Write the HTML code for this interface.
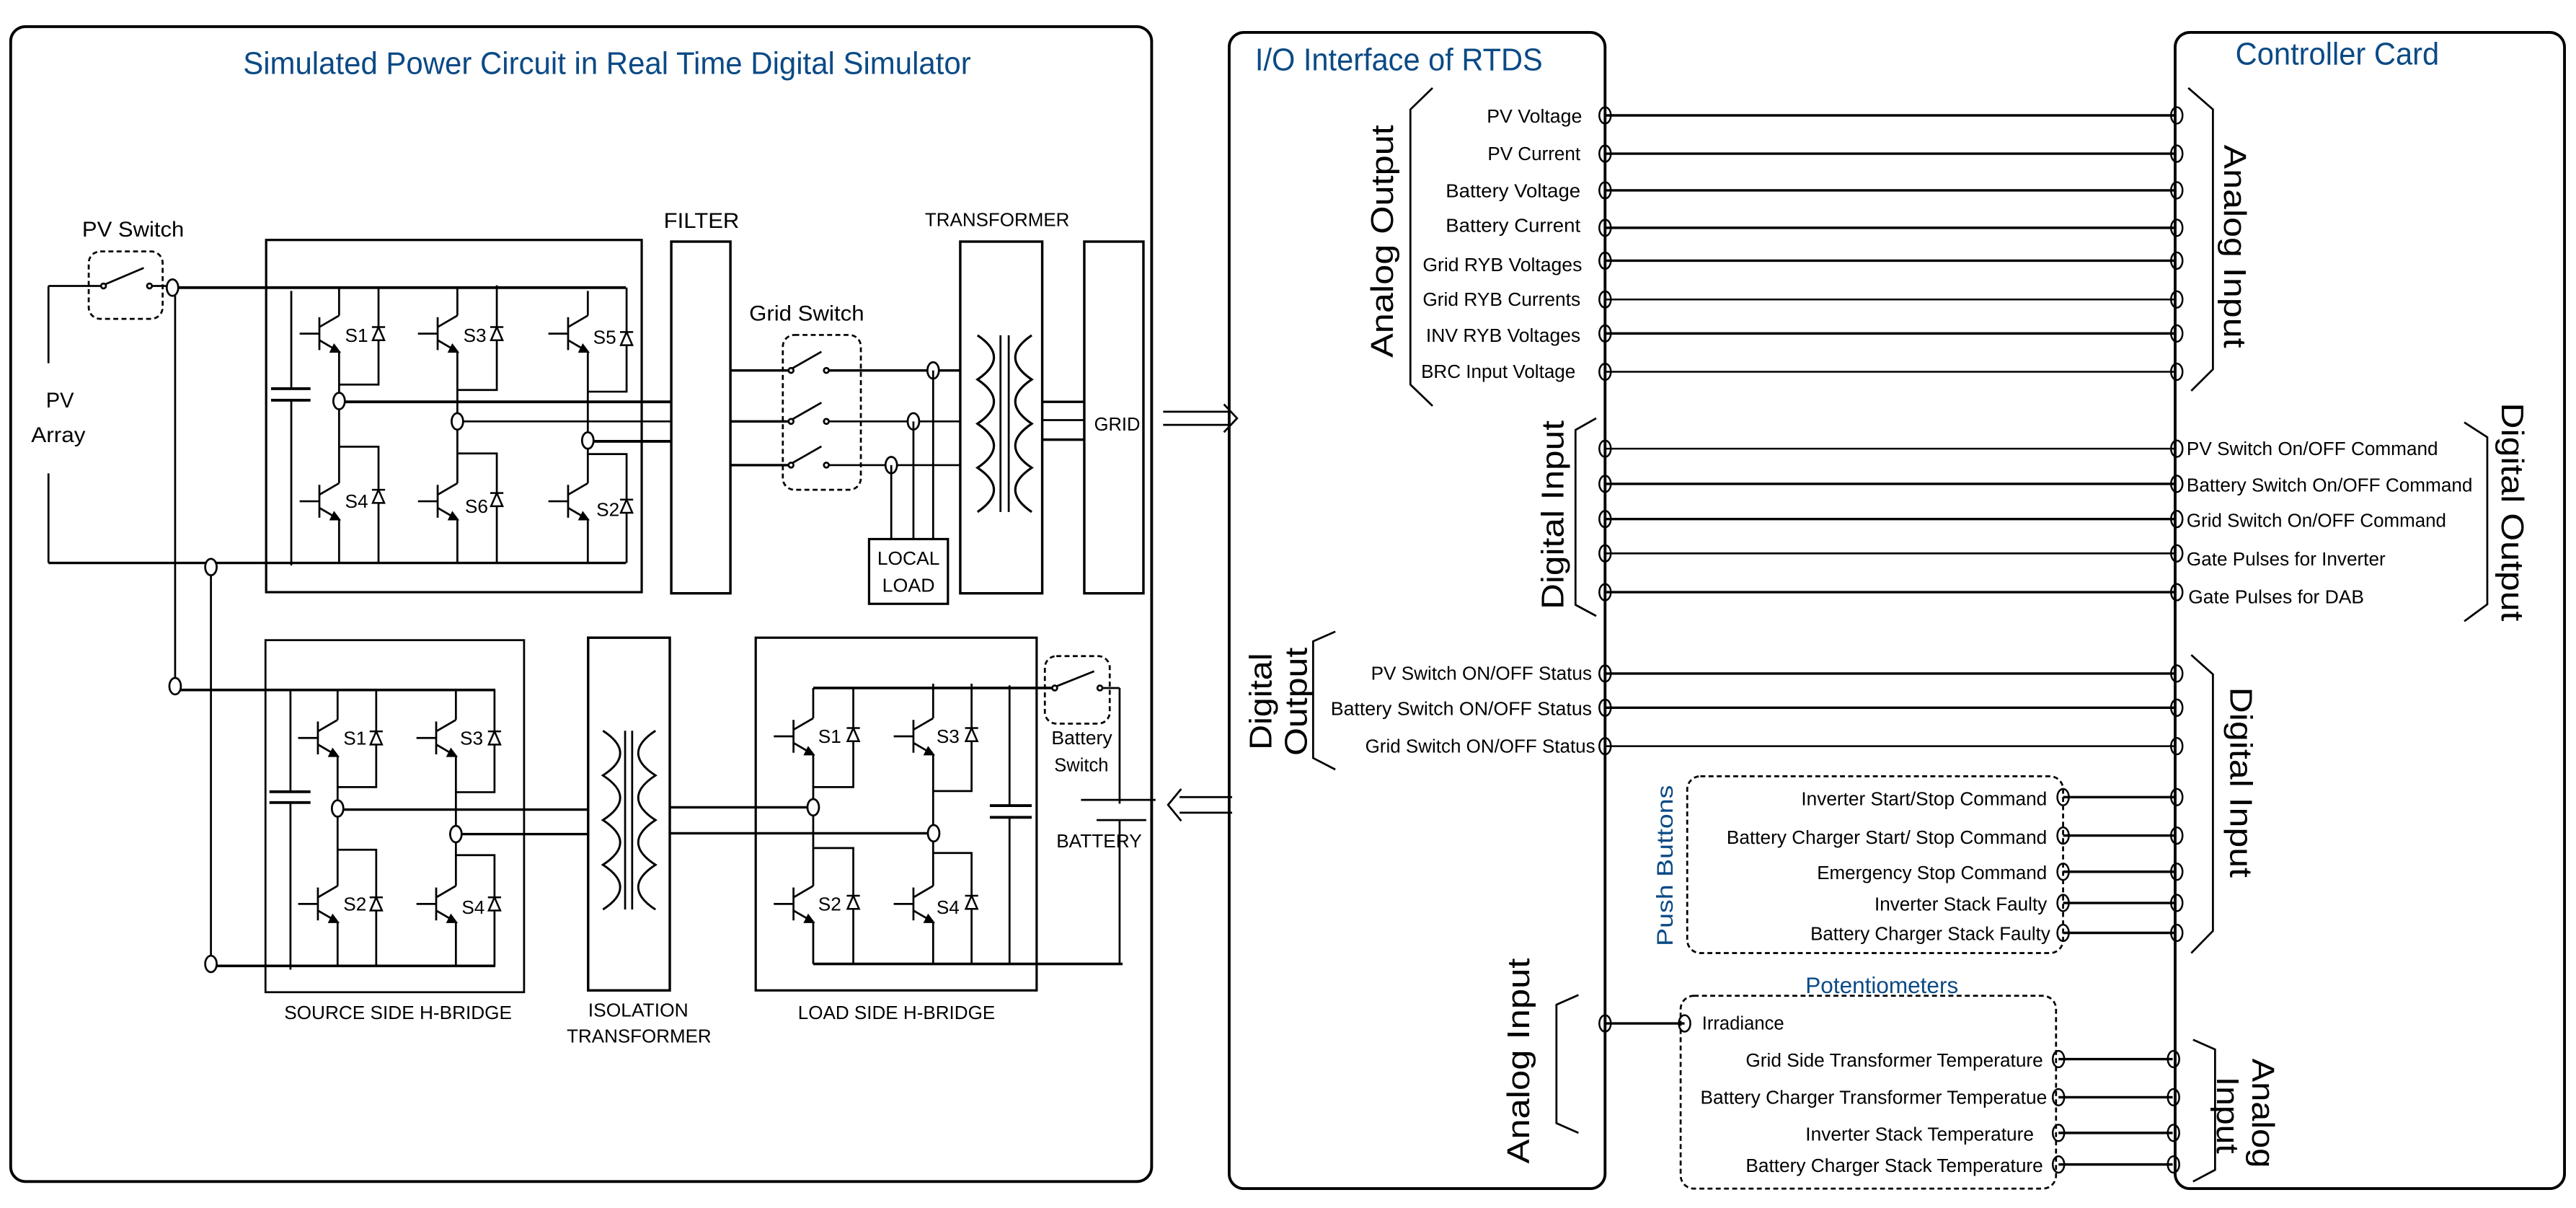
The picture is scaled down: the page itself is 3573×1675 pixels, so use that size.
<!DOCTYPE html>
<html><head><meta charset="utf-8"><style>
html,body{margin:0;padding:0;background:#fff;}
svg{display:block;}
text{font-family:"Liberation Sans",Arial,sans-serif;fill:#000;}
.b{fill:#0b4a85;}
</style></head><body>
<svg width="3573" height="1675" viewBox="0 0 1568 735" preserveAspectRatio="none" xmlns="http://www.w3.org/2000/svg">
<defs>
<g id="q" fill="none" stroke="#000" stroke-width="1.2">
<line x1="-12" y1="-10" x2="-12" y2="10"/>
<line x1="-24" y1="0" x2="-12" y2="0"/>
<line x1="-12" y1="-4" x2="0" y2="-11"/>
<line x1="-12" y1="4" x2="0" y2="11"/>
<path d="M-3,7 L0,11 L-5,11 Z" fill="#000"/>
</g>
<g id="d" fill="none" stroke="#000" stroke-width="1.1">
<path d="M-3.5,4 L3.5,4 L0,-4 Z" fill="#fff"/>
<line x1="-4" y1="-4" x2="4" y2="-4"/>
</g>
</defs>
<g fill="none" stroke="#000" stroke-width="1.2">
<!-- outer boxes -->
<rect x="6.5" y="16.2" width="694.5" height="702.7" rx="9" stroke-width="1.7"/>
<rect x="748.2" y="19.7" width="228.8" height="703.5" rx="9" stroke-width="1.7"/>
<rect x="1324" y="19.7" width="237" height="703.5" rx="9" stroke-width="1.7"/>

<!-- PV switch -->
<rect x="54" y="153" width="45" height="41" rx="7" stroke-dasharray="3,2"/>
<line x1="29.5" y1="174" x2="61.5" y2="174"/>
<circle cx="63" cy="174" r="1.5"/>
<line x1="64" y1="173" x2="87.5" y2="163"/>
<circle cx="91" cy="174" r="1.5"/>
<line x1="92.5" y1="174" x2="101" y2="174"/>
<ellipse cx="105" cy="175" rx="3.5" ry="5" fill="#fff"/>
<line x1="108.5" y1="175" x2="381" y2="175" stroke-width="1.7"/>
<line x1="29.5" y1="174" x2="29.5" y2="221"/>
<line x1="29.5" y1="288" x2="29.5" y2="342.5"/>
<line x1="29.5" y1="342.5" x2="381" y2="342.5" stroke-width="1.5"/>
<line x1="106.6" y1="180" x2="106.6" y2="412"/>
<ellipse cx="106.6" cy="417.5" rx="3.5" ry="5" fill="#fff"/>
<ellipse cx="128.4" cy="345" rx="3.5" ry="5" fill="#fff"/>
<line x1="128.4" y1="350" x2="128.4" y2="581"/>
<ellipse cx="128.4" cy="586.5" rx="3.5" ry="5" fill="#fff"/>

<!-- inverter -->
<rect x="162" y="146" width="228.6" height="214.3" stroke-width="1.4"/>
<line x1="177.3" y1="177" x2="177.3" y2="236.5"/>
<line x1="177.3" y1="243.5" x2="177.3" y2="344"/>
<line x1="165" y1="236.5" x2="189" y2="236.5" stroke-width="1.7"/>
<line x1="165" y1="243.5" x2="189" y2="243.5" stroke-width="1.7"/>
<!-- leg1 -->
<path d="M206.4,175 V192 M206.4,214 V294 M206.4,316 V342.5"/>
<path d="M230.4,175 V234 H206.4 M206.4,271.8 H230.4 V342.5"/>
<ellipse cx="206.4" cy="244" rx="3.5" ry="5" fill="#fff"/>
<line x1="210" y1="244.5" x2="408.6" y2="244.5" stroke-width="1.7"/>
<!-- leg2 -->
<path d="M278.4,175 V192 M278.4,214 V294 M278.4,316 V342.5"/>
<path d="M302.4,173.6 V237.3 H278.4 M278.4,275.9 H302.4 V342.5"/>
<ellipse cx="278.4" cy="256.4" rx="3.5" ry="5" fill="#fff"/>
<line x1="282" y1="256.4" x2="408.6" y2="256.4"/>
<!-- leg3 -->
<path d="M357.8,177 V192 M357.8,214 V294 M357.8,316 V342.5"/>
<path d="M381.4,175 V238.3 H357.8 M357.8,276.3 H381.4 V342.5"/>
<ellipse cx="357.8" cy="268" rx="3.5" ry="5" fill="#fff"/>
<line x1="361.3" y1="268.5" x2="408.6" y2="268.5" stroke-width="1.7"/>

<!-- filter etc -->
<rect x="408.6" y="147" width="36" height="214" stroke-width="1.5"/>
<rect x="476.5" y="203.8" width="47.5" height="94.2" rx="7" stroke-dasharray="3,2"/>
<g stroke-width="1.5">
<line x1="444.6" y1="225.4" x2="480" y2="225.4"/>
<line x1="444.6" y1="256.4" x2="480" y2="256.4"/>
<line x1="444.6" y1="283" x2="480" y2="283"/>
<line x1="504.5" y1="225.4" x2="584.5" y2="225.4"/>
</g>
<line x1="504.5" y1="256.4" x2="584.5" y2="256.4"/>
<line x1="504.5" y1="283" x2="584.5" y2="283"/>
<circle cx="481.5" cy="225.4" r="1.5"/><circle cx="503" cy="225.4" r="1.5"/>
<circle cx="481.5" cy="256.4" r="1.5"/><circle cx="503" cy="256.4" r="1.5"/>
<circle cx="481.5" cy="283" r="1.5"/><circle cx="503" cy="283" r="1.5"/>
<line x1="482.5" y1="224" x2="500" y2="214"/>
<line x1="482.5" y1="255" x2="500" y2="245"/>
<line x1="482.5" y1="281.6" x2="500" y2="271.6"/>
<ellipse cx="568" cy="225.4" rx="3.5" ry="5" fill="#fff"/>
<ellipse cx="556" cy="256.4" rx="3.5" ry="5" fill="#fff"/>
<ellipse cx="542.5" cy="283" rx="3.5" ry="5" fill="#fff"/>
<line x1="568" y1="225.4" x2="568" y2="328"/>
<line x1="556" y1="256.4" x2="556" y2="328"/>
<line x1="542.5" y1="283" x2="542.5" y2="328"/>
<rect x="529" y="328" width="48" height="39.4" stroke-width="1.4"/>
<rect x="584.5" y="147" width="49.9" height="214" stroke-width="1.5"/>
<path d="M595,204 Q615,217.4 595,230.9 Q615,244.3 595,257.8 Q615,271.2 595,284.6 Q615,298 595,311.5" stroke-width="1.4"/>
<path d="M628,204 Q608,217.4 628,230.9 Q608,244.3 628,257.8 Q608,271.2 628,284.6 Q608,298 628,311.5" stroke-width="1.4"/>
<line x1="609" y1="204" x2="609" y2="311.5"/>
<line x1="614" y1="204" x2="614" y2="311.5"/>
<line x1="634.4" y1="244.5" x2="660" y2="244.5" stroke-width="1.5"/>
<line x1="634.4" y1="255.6" x2="660" y2="255.6"/>
<line x1="634.4" y1="267.5" x2="660" y2="267.5" stroke-width="1.5"/>
<rect x="660" y="147" width="36" height="214" stroke-width="1.5"/>
<!-- right arrow -->
<line x1="708" y1="250.5" x2="748" y2="250.5"/>
<line x1="708" y1="258.5" x2="748" y2="258.5"/>
<path d="M745,246 L753,254.5 L745,263"/>

<!-- source H bridge -->
<rect x="161.6" y="389.5" width="157.4" height="214.2" stroke-width="1.2"/>
<line x1="110" y1="419.8" x2="301.5" y2="419.8" stroke-width="1.6"/>
<line x1="132" y1="587.7" x2="301.5" y2="587.7" stroke-width="1.6"/>
<line x1="176.8" y1="419.8" x2="176.8" y2="481.7"/>
<line x1="176.8" y1="488.3" x2="176.8" y2="590"/>
<line x1="164" y1="481.7" x2="189" y2="481.7" stroke-width="1.7"/>
<line x1="164" y1="488.3" x2="189" y2="488.3" stroke-width="1.7"/>
<path d="M205.5,419.8 V438 M205.5,460 V539 M205.5,561 V587.7"/>
<path d="M229,419.8 V478.9 H205.5 M205.5,517 H229 V587.7"/>
<ellipse cx="205.5" cy="491.9" rx="3.5" ry="5" fill="#fff"/>
<line x1="209" y1="492.6" x2="358" y2="492.6" stroke-width="1.5"/>
<path d="M277.5,419.8 V438 M277.5,460 V539 M277.5,561 V587.7"/>
<path d="M301,419.8 V482 H277.5 M277.5,520.3 H301 V587.7"/>
<ellipse cx="277.5" cy="507.5" rx="3.5" ry="5" fill="#fff"/>
<line x1="281" y1="507.5" x2="358" y2="507.5" stroke-width="1.5"/>
<!-- iso transformer -->
<rect x="358" y="388" width="49.7" height="214.6" stroke-width="1.5"/>
<path d="M367,444.6 Q388,458.3 367,471.8 Q388,485.4 367,499 Q388,512.6 367,526.2 Q388,539.8 367,553.4" stroke-width="1.3"/>
<path d="M399,444.6 Q378,458.3 399,471.8 Q378,485.4 399,499 Q378,512.6 399,526.2 Q378,539.8 399,553.4" stroke-width="1.3"/>
<line x1="380.5" y1="444.6" x2="380.5" y2="553.4"/>
<line x1="384.8" y1="444.6" x2="384.8" y2="553.4"/>
<!-- load H bridge -->
<rect x="460" y="388" width="171" height="214.6" stroke-width="1.4"/>
<line x1="407.7" y1="491.2" x2="491.5" y2="491.2" stroke-width="1.5"/>
<line x1="407.7" y1="507" x2="564.8" y2="507" stroke-width="1.5"/>
<line x1="495" y1="418.6" x2="640.3" y2="418.6" stroke-width="1.6"/>
<line x1="495" y1="586.5" x2="683.3" y2="586.5" stroke-width="1.6"/>
<path d="M495,418.6 V437 M495,459 V539 M495,561 V586.5"/>
<path d="M519.4,418.6 V478.9 H495 M495,516 H519.4 V586.5"/>
<ellipse cx="495" cy="491.2" rx="3.5" ry="5" fill="#fff"/>
<path d="M568,416 V437 M568,459 V539 M568,561 V586.5"/>
<path d="M591.4,416 V481.3 H568 M568,519 H591.4 V586.5"/>
<ellipse cx="568.3" cy="507" rx="3.5" ry="5" fill="#fff"/>
<line x1="614.5" y1="417" x2="614.5" y2="490.2"/>
<line x1="614.5" y1="497.3" x2="614.5" y2="586.5"/>
<line x1="602.5" y1="490.2" x2="628" y2="490.2" stroke-width="1.7"/>
<line x1="602.5" y1="497.3" x2="628" y2="497.3" stroke-width="1.7"/>
<!-- battery switch -->
<rect x="636" y="399.2" width="39.5" height="41.1" rx="7" stroke-dasharray="3,2"/>
<circle cx="642" cy="418.6" r="1.5"/><circle cx="669.5" cy="418.6" r="1.5"/>
<line x1="643" y1="417.6" x2="666" y2="408.4"/>
<line x1="671" y1="418.6" x2="681.5" y2="418.6"/>
<line x1="681.5" y1="418.6" x2="681.5" y2="489"/>
<line x1="658" y1="486.7" x2="703.4" y2="486.7"/>
<line x1="667.5" y1="499" x2="697.7" y2="499"/>
<line x1="681.5" y1="499" x2="681.5" y2="586.5"/>
<!-- left arrow -->
<line x1="718" y1="485" x2="750" y2="485"/>
<line x1="718" y1="494.5" x2="750" y2="494.5"/>
<path d="M719,480 L711,489.7 L719,499.5"/>

<!-- braces -->
<path d="M872,53.5 L858.5,66.6 V234 L872,247"/>
<path d="M1332,53.5 L1347,66.6 V224.7 L1333.8,237.8"/>
<path d="M971.6,254.5 L959,261.6 V368 L971.6,374.8"/>
<path d="M1500,257 L1514,266 V367.7 L1500,378"/>
<path d="M812.8,384.3 L799.3,390.2 V461.2 L812.8,468.2"/>
<path d="M1333.8,398.5 L1347,410.3 V566.4 L1333.8,579.9"/>
<path d="M960.8,605.4 L947.4,611.3 V683.4 L960.8,689.3"/>
<path d="M1334.9,632.6 L1348.3,638.5 V711.8 L1334.9,718.9"/>

<!-- dashed boxes -->
<rect x="1027" y="472.3" width="228.8" height="107.6" rx="8" stroke-dasharray="3,2"/>
<rect x="1023" y="605.9" width="228.5" height="117.3" rx="8" stroke-dasharray="3,2"/>

<!-- signal lines IO -> controller -->
<g stroke-width="1.5">
<line x1="977" y1="70.2" x2="1324" y2="70.2"/>
<line x1="977" y1="93.5" x2="1324" y2="93.5"/>
<line x1="977" y1="115.8" x2="1324" y2="115.8"/>
<line x1="977" y1="138.6" x2="1324" y2="138.6"/>
<line x1="977" y1="158.6" x2="1324" y2="158.6"/>
<line x1="977" y1="182.2" x2="1324" y2="182.2" stroke-width="1.1"/>
<line x1="977" y1="202.9" x2="1324" y2="202.9"/>
<line x1="977" y1="226.2" x2="1324" y2="226.2" stroke-width="1.1"/>
<line x1="977" y1="273" x2="1324" y2="273" stroke-width="1.1"/>
<line x1="977" y1="294.4" x2="1324" y2="294.4"/>
<line x1="977" y1="315.8" x2="1324" y2="315.8"/>
<line x1="977" y1="336.7" x2="1324" y2="336.7" stroke-width="1.1"/>
<line x1="977" y1="360.3" x2="1324" y2="360.3"/>
<line x1="977" y1="409.8" x2="1324" y2="409.8"/>
<line x1="977" y1="430.6" x2="1324" y2="430.6"/>
<line x1="977" y1="454" x2="1324" y2="454" stroke-width="1.1"/>
<line x1="1255.8" y1="485" x2="1324" y2="485"/>
<line x1="1255.8" y1="508.4" x2="1324" y2="508.4"/>
<line x1="1255.8" y1="530.4" x2="1324" y2="530.4"/>
<line x1="1255.8" y1="549.4" x2="1324" y2="549.4"/>
<line x1="1255.8" y1="567.6" x2="1324" y2="567.6"/>
<line x1="977" y1="622.7" x2="1025.4" y2="622.7"/>
<line x1="1253" y1="644.4" x2="1322.5" y2="644.4"/>
<line x1="1253" y1="667.6" x2="1322.5" y2="667.6"/>
<line x1="1253" y1="689.3" x2="1322.5" y2="689.3"/>
<line x1="1253" y1="708.5" x2="1322.5" y2="708.5"/>
</g>
<!-- nodes -->
<g stroke-width="1.1">
<g id="nl">
<ellipse cx="977" cy="70.2" rx="3.5" ry="5"/><ellipse cx="977" cy="93.5" rx="3.5" ry="5"/>
<ellipse cx="977" cy="115.8" rx="3.5" ry="5"/><ellipse cx="977" cy="138.6" rx="3.5" ry="5"/>
<ellipse cx="977" cy="158.6" rx="3.5" ry="5"/><ellipse cx="977" cy="182.2" rx="3.5" ry="5"/>
<ellipse cx="977" cy="202.9" rx="3.5" ry="5"/><ellipse cx="977" cy="226.2" rx="3.5" ry="5"/>
<ellipse cx="977" cy="273" rx="3.5" ry="5"/><ellipse cx="977" cy="294.4" rx="3.5" ry="5"/>
<ellipse cx="977" cy="315.8" rx="3.5" ry="5"/><ellipse cx="977" cy="336.7" rx="3.5" ry="5"/>
<ellipse cx="977" cy="360.3" rx="3.5" ry="5"/><ellipse cx="977" cy="409.8" rx="3.5" ry="5"/>
<ellipse cx="977" cy="430.6" rx="3.5" ry="5"/><ellipse cx="977" cy="454" rx="3.5" ry="5"/>
<ellipse cx="977" cy="622.7" rx="3.5" ry="5"/>
</g>
<ellipse cx="1325" cy="70.2" rx="3.5" ry="5"/><ellipse cx="1325" cy="93.5" rx="3.5" ry="5"/>
<ellipse cx="1325" cy="115.8" rx="3.5" ry="5"/><ellipse cx="1325" cy="138.6" rx="3.5" ry="5"/>
<ellipse cx="1325" cy="158.6" rx="3.5" ry="5"/><ellipse cx="1325" cy="182.2" rx="3.5" ry="5"/>
<ellipse cx="1325" cy="202.9" rx="3.5" ry="5"/><ellipse cx="1325" cy="226.2" rx="3.5" ry="5"/>
<ellipse cx="1325" cy="273" rx="3.5" ry="5"/><ellipse cx="1325" cy="294.4" rx="3.5" ry="5"/>
<ellipse cx="1325" cy="315.8" rx="3.5" ry="5"/><ellipse cx="1325" cy="336.7" rx="3.5" ry="5"/>
<ellipse cx="1325" cy="360.3" rx="3.5" ry="5"/><ellipse cx="1325" cy="409.8" rx="3.5" ry="5"/>
<ellipse cx="1325" cy="430.6" rx="3.5" ry="5"/><ellipse cx="1325" cy="454" rx="3.5" ry="5"/>
<ellipse cx="1325" cy="485" rx="3.5" ry="5"/><ellipse cx="1325" cy="508.4" rx="3.5" ry="5"/>
<ellipse cx="1325" cy="530.4" rx="3.5" ry="5"/><ellipse cx="1325" cy="549.4" rx="3.5" ry="5"/>
<ellipse cx="1325" cy="567.6" rx="3.5" ry="5"/>
<ellipse cx="1323" cy="644.4" rx="3.5" ry="5"/><ellipse cx="1323" cy="667.6" rx="3.5" ry="5"/>
<ellipse cx="1323" cy="689.3" rx="3.5" ry="5"/><ellipse cx="1323" cy="708.5" rx="3.5" ry="5"/>
<ellipse cx="1255.8" cy="485" rx="3.5" ry="5"/><ellipse cx="1255.8" cy="508.4" rx="3.5" ry="5"/>
<ellipse cx="1255.8" cy="530.4" rx="3.5" ry="5"/><ellipse cx="1255.8" cy="549.4" rx="3.5" ry="5"/>
<ellipse cx="1255.8" cy="567.6" rx="3.5" ry="5"/>
<ellipse cx="1253" cy="644.4" rx="3.5" ry="5"/><ellipse cx="1253" cy="667.6" rx="3.5" ry="5"/>
<ellipse cx="1253" cy="689.3" rx="3.5" ry="5"/><ellipse cx="1253" cy="708.5" rx="3.5" ry="5"/>
<ellipse cx="1025.4" cy="622.7" rx="3.5" ry="5"/>
</g>
</g>

<!-- IGBTs & diodes -->
<use href="#q" x="206.4" y="203"/><use href="#q" x="278.4" y="203"/><use href="#q" x="357.8" y="203"/>
<use href="#q" x="206.4" y="305"/><use href="#q" x="278.4" y="305"/><use href="#q" x="357.8" y="305"/>
<use href="#d" x="230.4" y="203"/><use href="#d" x="302.4" y="203"/><use href="#d" x="381.4" y="206"/>
<use href="#d" x="230.4" y="302"/><use href="#d" x="302.4" y="304"/><use href="#d" x="381.4" y="308"/>
<use href="#q" x="205.5" y="449"/><use href="#q" x="277.5" y="449"/>
<use href="#q" x="205.5" y="550"/><use href="#q" x="277.5" y="550"/>
<use href="#d" x="229" y="449"/><use href="#d" x="301" y="449"/>
<use href="#d" x="229" y="550"/><use href="#d" x="301" y="550"/>
<use href="#q" x="495" y="448"/><use href="#q" x="568" y="448"/>
<use href="#q" x="495" y="550"/><use href="#q" x="568" y="550"/>
<use href="#d" x="519.4" y="447"/><use href="#d" x="591.4" y="447"/>
<use href="#d" x="519.4" y="549"/><use href="#d" x="591.4" y="549"/>

<!-- text left -->
<text class="b" x="148" y="45" font-size="19" textLength="443" lengthAdjust="spacingAndGlyphs">Simulated Power Circuit in Real Time Digital Simulator</text>
<g font-size="13">
<text x="50" y="144" textLength="62" lengthAdjust="spacingAndGlyphs">PV Switch</text>
<text x="28" y="248" textLength="17" lengthAdjust="spacingAndGlyphs">PV</text>
<text x="19" y="269" textLength="33" lengthAdjust="spacingAndGlyphs">Array</text>
<text x="404" y="138.6" textLength="46" lengthAdjust="spacingAndGlyphs">FILTER</text>
<text x="456" y="195" textLength="70" lengthAdjust="spacingAndGlyphs">Grid Switch</text>
</g>
<g font-size="11.5">
<text x="563" y="137.5" textLength="88" lengthAdjust="spacingAndGlyphs">TRANSFORMER</text>
<text x="666" y="262" textLength="28" lengthAdjust="spacingAndGlyphs">GRID</text>
<text x="534" y="343.6" textLength="38" lengthAdjust="spacingAndGlyphs">LOCAL</text>
<text x="537" y="360" textLength="32" lengthAdjust="spacingAndGlyphs">LOAD</text>
<text x="210" y="208">S1</text><text x="282" y="208">S3</text><text x="361" y="209">S5</text>
<text x="210" y="309">S4</text><text x="283" y="312">S6</text><text x="363" y="314">S2</text>
<text x="209" y="453">S1</text><text x="280" y="453">S3</text>
<text x="209" y="554">S2</text><text x="281" y="556">S4</text>
<text x="498" y="452">S1</text><text x="570" y="452">S3</text>
<text x="498" y="554">S2</text><text x="570" y="556">S4</text>
<text x="173" y="620" textLength="138.6" lengthAdjust="spacingAndGlyphs">SOURCE SIDE H-BRIDGE</text>
<text x="358" y="618.4" textLength="61" lengthAdjust="spacingAndGlyphs">ISOLATION</text>
<text x="345" y="634.2" textLength="88" lengthAdjust="spacingAndGlyphs">TRANSFORMER</text>
<text x="485.7" y="620" textLength="120" lengthAdjust="spacingAndGlyphs">LOAD SIDE H-BRIDGE</text>
<text x="640" y="452.9" textLength="37" lengthAdjust="spacingAndGlyphs">Battery</text>
<text x="641.7" y="469.4" textLength="33" lengthAdjust="spacingAndGlyphs">Switch</text>
<text x="643" y="515.5" textLength="52" lengthAdjust="spacingAndGlyphs">BATTERY</text>
</g>

<!-- text right -->
<text class="b" x="764" y="42.8" font-size="19" textLength="175" lengthAdjust="spacingAndGlyphs">I/O Interface of RTDS</text>
<text class="b" x="1360.7" y="39.2" font-size="19" textLength="124" lengthAdjust="spacingAndGlyphs">Controller Card</text>
<text class="b" x="1099" y="604.2" font-size="14" textLength="93" lengthAdjust="spacingAndGlyphs">Potentiometers</text>

<g font-size="11.5" text-anchor="end">
<text x="963" y="74.7" textLength="58" lengthAdjust="spacingAndGlyphs">PV Voltage</text>
<text x="962" y="97.5" textLength="56.5" lengthAdjust="spacingAndGlyphs">PV Current</text>
<text x="962" y="120" textLength="82" lengthAdjust="spacingAndGlyphs">Battery  Voltage</text>
<text x="962" y="141" textLength="82" lengthAdjust="spacingAndGlyphs">Battery  Current</text>
<text x="963" y="165" textLength="97" lengthAdjust="spacingAndGlyphs">Grid RYB Voltages</text>
<text x="962" y="186" textLength="96" lengthAdjust="spacingAndGlyphs">Grid RYB Currents</text>
<text x="962" y="208" textLength="94" lengthAdjust="spacingAndGlyphs">INV RYB Voltages</text>
<text x="959" y="230" textLength="94" lengthAdjust="spacingAndGlyphs">BRC Input Voltage</text>
<text x="969" y="413.5" textLength="134.5" lengthAdjust="spacingAndGlyphs">PV Switch ON/OFF Status</text>
<text x="969" y="435" textLength="159" lengthAdjust="spacingAndGlyphs">Battery  Switch ON/OFF Status</text>
<text x="971" y="458" textLength="140" lengthAdjust="spacingAndGlyphs">Grid Switch ON/OFF Status</text>
<text x="1246" y="490" textLength="149.6" lengthAdjust="spacingAndGlyphs">Inverter Start/Stop Command</text>
<text x="1246" y="513.5" textLength="195" lengthAdjust="spacingAndGlyphs">Battery Charger Start/ Stop Command</text>
<text x="1246" y="535" textLength="140" lengthAdjust="spacingAndGlyphs">Emergency Stop Command</text>
<text x="1246" y="554" textLength="105" lengthAdjust="spacingAndGlyphs">Inverter Stack Faulty</text>
<text x="1248" y="572" textLength="146" lengthAdjust="spacingAndGlyphs">Battery Charger Stack Faulty</text>
<text x="1243.6" y="649" textLength="181" lengthAdjust="spacingAndGlyphs">Grid Side Transformer Temperature</text>
<text x="1246" y="671.5" textLength="211" lengthAdjust="spacingAndGlyphs">Battery Charger Transformer Temperatue</text>
<text x="1238" y="694" textLength="139" lengthAdjust="spacingAndGlyphs">Inverter Stack Temperature</text>
<text x="1243.6" y="713" textLength="181" lengthAdjust="spacingAndGlyphs">Battery Charger Stack Temperature</text>
</g>
<g font-size="11.5">
<text x="1331" y="277" textLength="153" lengthAdjust="spacingAndGlyphs">PV Switch On/OFF Command</text>
<text x="1331" y="299" textLength="174" lengthAdjust="spacingAndGlyphs">Battery Switch On/OFF Command</text>
<text x="1331" y="320.5" textLength="158" lengthAdjust="spacingAndGlyphs">Grid Switch On/OFF Command</text>
<text x="1331" y="344" textLength="121" lengthAdjust="spacingAndGlyphs">Gate Pulses for Inverter</text>
<text x="1332" y="367" textLength="107" lengthAdjust="spacingAndGlyphs">Gate Pulses for DAB</text>
<text x="1036" y="626.5" textLength="50" lengthAdjust="spacingAndGlyphs">Irradiance</text>
</g>

<!-- rotated labels -->
<g font-size="19" text-anchor="middle">
<text transform="translate(841,146.8) rotate(-90)" dy=".36em" textLength="141.6" lengthAdjust="spacingAndGlyphs">Analog Output</text>
<text transform="translate(1360.7,149.9) rotate(90)" dy=".36em" textLength="123.7" lengthAdjust="spacingAndGlyphs">Analog Input</text>
<text transform="translate(944.7,313.3) rotate(-90)" dy=".36em" textLength="115" lengthAdjust="spacingAndGlyphs">Digital Input</text>
<text transform="translate(1529.7,311.5) rotate(90)" dy=".36em" textLength="133" lengthAdjust="spacingAndGlyphs">Digital Output</text>
<text transform="translate(767,426.8) rotate(-90)" dy=".36em" textLength="59" lengthAdjust="spacingAndGlyphs">Digital</text>
<text transform="translate(788.6,426.9) rotate(-90)" dy=".36em" textLength="66" lengthAdjust="spacingAndGlyphs">Output</text>
<text transform="translate(1364.5,476) rotate(90)" dy=".36em" textLength="116" lengthAdjust="spacingAndGlyphs">Digital Input</text>
<text transform="translate(924,645.5) rotate(-90)" dy=".36em" textLength="125" lengthAdjust="spacingAndGlyphs">Analog Input</text>
<text transform="translate(1377.9,677.3) rotate(90)" dy=".36em" textLength="66.6" lengthAdjust="spacingAndGlyphs">Analog</text>
<text transform="translate(1356.4,678.5) rotate(90)" dy=".36em" textLength="47" lengthAdjust="spacingAndGlyphs">Input</text>
<text class="b" font-size="14" transform="translate(1013,526.7) rotate(-90)" dy=".36em" textLength="98" lengthAdjust="spacingAndGlyphs">Push Buttons</text>
</g>
</svg>
</body></html>
